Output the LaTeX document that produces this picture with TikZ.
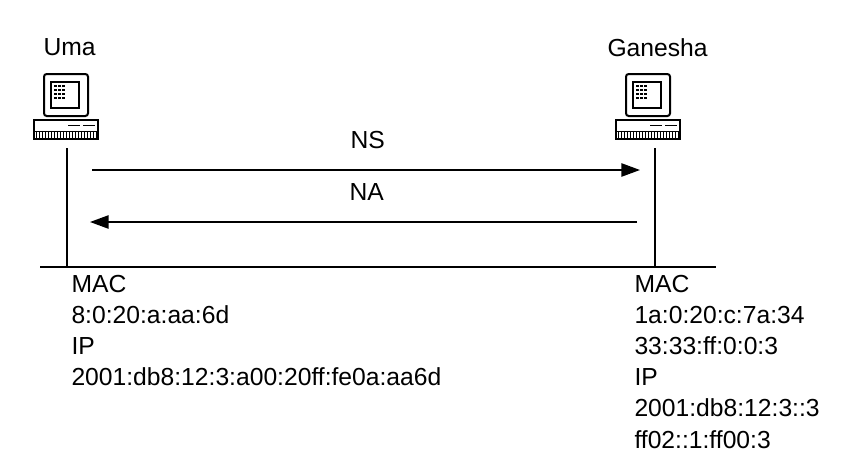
\documentclass[tikz,border=0pt]{standalone}
\usepackage{fontspec}
\setmainfont{Liberation Sans}
\usetikzlibrary{arrows.meta}
\tikzset{every picture/.style={line width=0.75pt}}
\tikzset{
  lbl/.style={anchor=north west,inner sep=0.75pt,font=\fontsize{18.5}{23.3}\selectfont,align=left},
  msg/.style={line width=1.2pt,-{Triangle[length=14pt,width=10pt]}},
}
\newcommand{\computer}[2]{%
  \begin{scope}[shift={(#1,#2)}]
    % monitor
    \draw[line width=1.5pt,rounded corners=2pt] (-22,-52) rectangle (22,-10);
    \draw[line width=1.2pt] (-15,-44) rectangle (13,-18);
    \foreach \r in {0,1,2,3} \foreach \c in {0,1,2}
      \fill (-12+\c*4,-41+\r*4) rectangle ++(2.5,2);
    % base
    \draw[line width=1.5pt] (-32,-6) rectangle (32,13);
    \draw (-32,5) -- (32,5);
    \draw (2,-1) -- (14,-1) (17,-1) -- (29,-1);
    \foreach \i in {-30,-27,...,30} \draw (\i,6) -- (\i,12);
  \end{scope}}
\begin{document}
\begin{tikzpicture}[x=0.75pt,y=0.75pt,yscale=-1,xscale=1]
\useasboundingbox (0,0) rectangle (860,475);
%Computers
\computer{66}{126}
\computer{648}{126}
\coordinate (umaTop) at (67,148);
\coordinate (umaBot) at (67,267);
\coordinate (ganTop) at (655,148);
\coordinate (ganBot) at (655,267);
\coordinate (busL) at (40,267);
\coordinate (busR) at (716,267);
%Lines
\draw[line width=1.2pt] (umaTop) -- (umaBot);
\draw[line width=1.2pt] (ganTop) -- (ganBot);
\draw[line width=1.2pt] (busL) -- (busR);
%Messages
\coordinate (nsA) at (92,170);
\coordinate (nsB) at (640,170);
\coordinate (naA) at (637,222);
\coordinate (naB) at (90,222);
\draw[msg] (nsA) -- (nsB);
\draw[msg] (naA) -- (naB);
% Text Node
\node[lbl] (uma) at (42,37) {Uma};
\node[lbl] (ganesha) at (606,37) {Ganesha};
\node[lbl] (ns) at (349,130) {NS};
\node[lbl] (na) at (348,182) {NA};
\node[lbl] (umaAddr) at (70,274) {MAC\\8:0:20:a:aa:6d\\IP\\2001:db8:12:3:a00:20ff:fe0a:aa6d};
\node[lbl] (ganAddr) at (633,274) {MAC\\1a:0:20:c:7a:34\\33:33:ff:0:0:3\\IP\\2001:db8:12:3::3\\ff02::1:ff00:3};
\end{tikzpicture}
\end{document}
